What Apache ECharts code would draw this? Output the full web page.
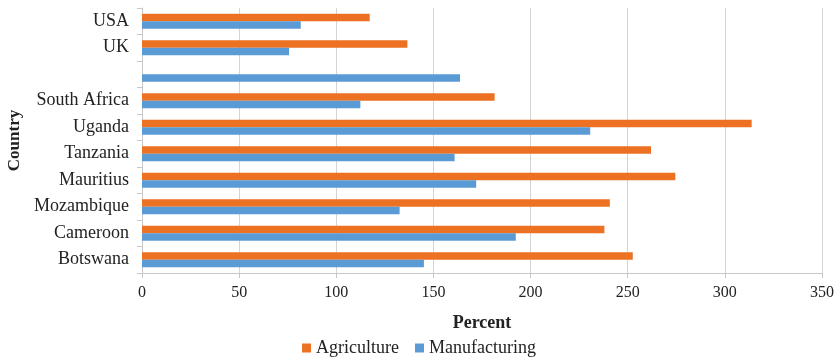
<!DOCTYPE html>
<html>
<head>
<meta charset="utf-8">
<script src="https://cdn.jsdelivr.net/npm/echarts@6/dist/echarts.min.js"></script>
<style>
  html, body { margin: 0; padding: 0; background: #fff; }
  #chart { width: 838px; height: 362px; }
</style>
</head>
<body>
<div id="chart"></div>
<script>
// Countries listed bottom to top; the unnamed row only has a manufacturing value
const countries = ['Botswana', 'Cameroon', 'Mozambique', 'Mauritius', 'Tanzania', 'Uganda', 'South Africa', '', 'UK', 'USA'];
const agriculture = [252.6, 238, 240.8, 274.5, 262, 313.8, 181.5, null, 136.6, 117.2];
const manufacturing = [145.1, 192.4, 132.6, 172, 160.9, 230.7, 112.4, 163.7, 75.7, 81.7];
const xTicks = { min: 0, max: 350, interval: 50 };

const serif = '"Liberation Serif", "DejaVu Serif", serif';
const textColor = '#222';

const chart = echarts.init(document.getElementById('chart'));
chart.setOption({
  animation: false,
  grid: { left: 142, right: 16, top: 8, bottom: 89, containLabel: false, outerBoundsMode: 'none' },
  legend: {
    data: ['Agriculture', 'Manufacturing'],
    bottom: 0,
    left: 'center',
    icon: 'rect',
    itemWidth: 9,
    itemHeight: 9,
    itemGap: 16,
    textStyle: { fontFamily: serif, fontSize: 18, color: textColor }
  },
  xAxis: {
    type: 'value',
    min: xTicks.min,
    max: xTicks.max,
    interval: xTicks.interval,
    name: 'Percent',
    nameLocation: 'middle',
    nameGap: 41,
    nameTextStyle: { fontFamily: serif, fontSize: 18, fontWeight: 'bold', color: textColor },
    axisLine: { show: true, lineStyle: { color: '#c8c8c8' } },
    axisTick: { show: true, length: 5, lineStyle: { color: '#c8c8c8' } },
    axisLabel: { fontFamily: serif, fontSize: 16, color: textColor, margin: 12 },
    splitLine: { show: true, lineStyle: { color: '#d4d4d4' } }
  },
  yAxis: {
    type: 'category',
    data: countries,
    name: 'Country',
    nameLocation: 'middle',
    nameGap: 119,
    nameRotate: 90,
    nameTextStyle: { fontFamily: serif, fontSize: 17, fontWeight: 'bold', color: textColor },
    axisLine: { show: true, lineStyle: { color: '#c8c8c8' } },
    axisTick: { show: true, length: 5, lineStyle: { color: '#c8c8c8' } },
    axisLabel: { fontFamily: serif, fontSize: 18, color: textColor, margin: 13 },
    splitLine: { show: false }
  },
  series: [
    {
      name: 'Agriculture',
      type: 'bar',
      data: agriculture,
      barWidth: 7.5,
      barGap: '0%',
      itemStyle: { color: '#EC7122' }
    },
    {
      name: 'Manufacturing',
      type: 'bar',
      data: manufacturing,
      barWidth: 7.5,
      barGap: '0%',
      itemStyle: { color: '#5B9BD5' }
    }
  ]
});
</script>
</body>
</html>
